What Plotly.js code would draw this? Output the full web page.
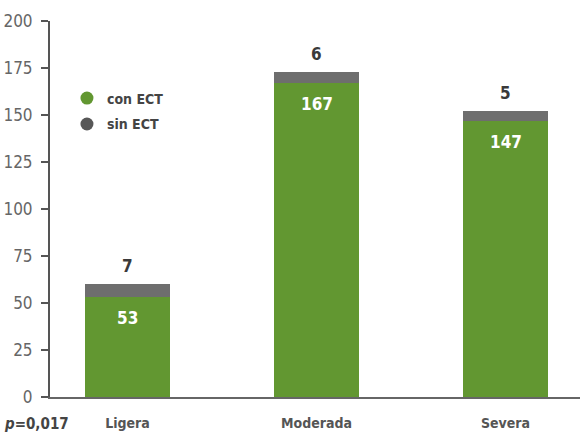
<!DOCTYPE html>
<html>
<head>
<meta charset="utf-8">
<script src="https://cdn.plot.ly/plotly-3.0.1.min.js"></script>
<style>
  html, body { margin: 0; padding: 0; background: #fff; }
  #chart { width: 580px; height: 433px; }
  /* narrow lettering for every label in the chart */
  #chart svg text { font-stretch: condensed !important; }
</style>
</head>
<body>
<div id="chart"></div>
<script>
// Severity categories and patient counts with / without ECT
const categories = ['Ligera', 'Moderada', 'Severa'];
const conECT = [53, 167, 147];
const sinECT = [7, 6, 5];
const seriesNames = ['con ECT', 'sin ECT'];
const pValueLabel = '<i>p</i>=0,017';
const yTicks = [0, 25, 50, 75, 100, 125, 150, 175, 200];

const FONT = '"DejaVu Sans Condensed", "DejaVu Sans", sans-serif';
const GREEN = '#629731';
const GREY = '#6e6e6e';
const GREY_DARK = '#575757';

const traces = [
  {
    type: 'bar', x: categories, y: conECT, name: seriesNames[0],
    marker: { color: GREEN }, width: 0.45, showlegend: false, hoverinfo: 'skip'
  },
  {
    type: 'bar', x: categories, y: sinECT, name: seriesNames[1],
    marker: { color: GREY }, width: 0.45, showlegend: false, hoverinfo: 'skip'
  },
  // legend entries with round markers
  {
    type: 'scatter', mode: 'markers', x: [null], y: [null], name: seriesNames[0],
    marker: { symbol: 'circle', size: 13, color: GREEN }, legend: 'legend'
  },
  {
    type: 'scatter', mode: 'markers', x: [null], y: [null], name: seriesNames[1],
    marker: { symbol: 'circle', size: 13, color: GREY_DARK }, legend: 'legend2'
  }
];

const annotations = [];
categories.forEach((c, i) => {
  // value of the green segment, inside near its top
  annotations.push({
    x: c, y: conECT[i], xref: 'x', yref: 'y', text: String(conECT[i]),
    showarrow: false, yanchor: 'top', yshift: -9,
    font: { family: FONT, size: 17, color: '#ffffff', weight: 'bold' }
  });
  // value of the grey segment, above the stack
  annotations.push({
    x: c, y: conECT[i] + sinECT[i], xref: 'x', yref: 'y', text: String(sinECT[i]),
    showarrow: false, yanchor: 'bottom', yshift: 6,
    font: { family: FONT, size: 17, color: '#3a3a3a', weight: 'bold' }
  });
});
annotations.push({
  x: -0.09, y: -0.072, xref: 'paper', yref: 'paper', text: pValueLabel,
  showarrow: false, xanchor: 'left', yanchor: 'middle',
  font: { family: FONT, size: 15, color: '#444', weight: 'bold' }
});

const legendBase = {
  bgcolor: 'rgba(0,0,0,0)', borderwidth: 0, xanchor: 'left', yanchor: 'middle',
  font: { family: FONT, size: 14, color: '#444', weight: 'bold' },
  itemwidth: 30, itemclick: false, itemdoubleclick: false
};

const layout = {
  width: 580, height: 433,
  margin: { l: 50, r: 0, t: 21, b: 36, pad: 0 },
  paper_bgcolor: '#fff', plot_bgcolor: '#fff',
  barmode: 'stack',
  showlegend: true,
  legend: Object.assign({}, legendBase, { x: 0.032, y: 0.794 }),
  legend2: Object.assign({}, legendBase, { x: 0.032, y: 0.725 }),
  xaxis: {
    range: [-0.41, 2.394], showgrid: false, zeroline: false,
    showline: true, linecolor: '#666', linewidth: 2, ticks: '',
    tickfont: { family: FONT, size: 14, color: '#555', weight: 'bold' },
    ticklabelstandoff: 12, fixedrange: true
  },
  yaxis: {
    range: [0, 200], tickvals: yTicks, showgrid: false, zeroline: false,
    showline: true, linecolor: '#555', linewidth: 2,
    ticks: 'outside', ticklen: 7, tickwidth: 2, tickcolor: '#555',
    tickfont: { family: FONT, size: 17, color: '#666' },
    ticklabelstandoff: 5, fixedrange: true
  },
  annotations: annotations
};

Plotly.newPlot('chart', traces, layout, { displayModeBar: false, staticPlot: true });
</script>
</body>
</html>
